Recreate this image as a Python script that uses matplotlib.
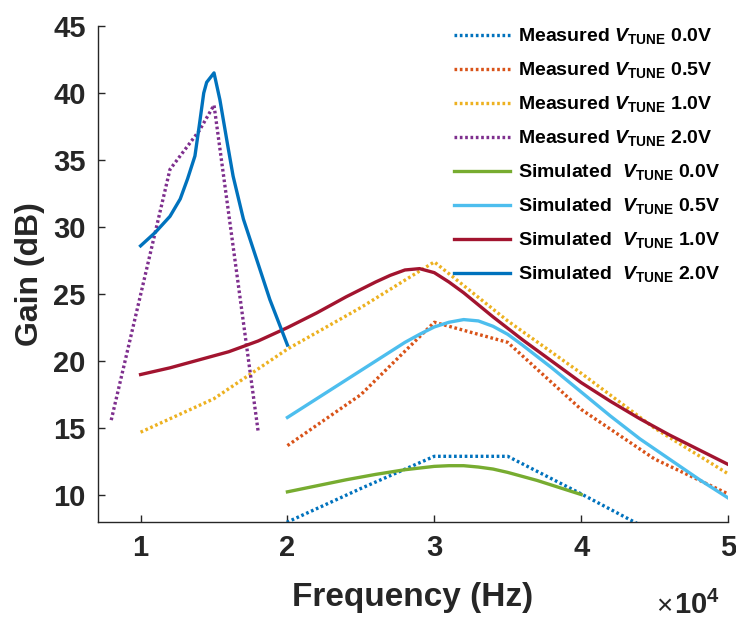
import matplotlib
matplotlib.use("Agg")
import matplotlib.pyplot as plt
from matplotlib.ticker import FuncFormatter

plt.rcParams["font.family"] = ["Liberation Sans", "DejaVu Sans"]
plt.rcParams["font.weight"] = "bold"
plt.rcParams["mathtext.fontset"] = "custom"
plt.rcParams["mathtext.rm"] = "Liberation Sans:bold"
plt.rcParams["mathtext.it"] = "Liberation Sans:bold:italic"
plt.rcParams["mathtext.bf"] = "Liberation Sans:bold"

# measured gain (dB)
meas_0v0_f = [15000, 20000, 25000, 30000, 35000, 40000, 45000]
meas_0v0_g = [5.5, 8.0, 10.5, 12.9, 12.9, 10.1, 7.2]
meas_0v5_f = [20000, 25000, 30000, 35000, 40000, 45000, 50000]
meas_0v5_g = [13.7, 17.5, 22.9, 21.4, 16.4, 12.7, 10.1]
meas_1v0_f = [10000, 15000, 20000, 25000, 30000, 35000, 40000, 45000, 50000]
meas_1v0_g = [14.7, 17.2, 20.9, 24.0, 27.4, 23.0, 19.1, 15.0, 11.6]
meas_2v0_f = [8000, 12000, 14000, 15000, 18000]
meas_2v0_g = [15.6, 34.3, 37.2, 39.1, 14.8]

# simulated gain (dB)
sim_0v0_f = [20000, 22000, 24000, 26000, 28000, 30000, 31000, 32000, 33000,
             34000, 35000, 36000, 37000, 38000, 39000, 40000]
sim_0v0_g = [10.25, 10.7, 11.15, 11.55, 11.9, 12.15, 12.2, 12.2, 12.1,
             11.95, 11.7, 11.4, 11.1, 10.75, 10.4, 10.05]
sim_0v5_f = [20000, 22000, 24000, 26000, 28000, 29000, 30000, 31000, 32000,
             33000, 34000, 35000, 36000, 38000, 40000, 42000, 44000, 46000,
             48000, 50000]
sim_0v5_g = [15.8, 17.2, 18.6, 20.0, 21.4, 22.0, 22.55, 22.9, 23.1,
             23.0, 22.6, 22.0, 21.2, 19.5, 17.7, 15.9, 14.2, 12.7,
             11.2, 9.8]
sim_1v0_f = [10000, 12000, 14000, 16000, 18000, 20000, 22000, 24000, 26000,
             27000, 28000, 29000, 30000, 31000, 32000, 33000, 34000, 36000,
             38000, 40000, 42000, 44000, 46000, 48000, 50000]
sim_1v0_g = [19.0, 19.5, 20.1, 20.7, 21.5, 22.5, 23.6, 24.8, 25.9,
             26.4, 26.8, 26.9, 26.6, 25.9, 25.1, 24.2, 23.3, 21.6,
             20.0, 18.4, 17.0, 15.7, 14.5, 13.4, 12.3]
sim_2v0_f = [10000, 11000, 12000, 12700, 13200, 13700, 14000, 14300, 14500,
             15000, 15400, 15900, 16300, 17000, 17900, 18800, 20000]
sim_2v0_g = [28.6, 29.6, 30.8, 32.1, 33.6, 35.3, 37.6, 40.0, 40.8,
             41.5, 39.5, 36.3, 33.8, 30.6, 27.6, 24.6, 21.2]

labels = ["Measured $V_{\\mathrm{TUNE}}$ 0.0V", "Measured $V_{\\mathrm{TUNE}}$ 0.5V",
          "Measured $V_{\\mathrm{TUNE}}$ 1.0V", "Measured $V_{\\mathrm{TUNE}}$ 2.0V",
          "Simulated  $V_{\\mathrm{TUNE}}$ 0.0V", "Simulated  $V_{\\mathrm{TUNE}}$ 0.5V",
          "Simulated  $V_{\\mathrm{TUNE}}$ 1.0V", "Simulated  $V_{\\mathrm{TUNE}}$ 2.0V"]

fig = plt.figure(figsize=(7.36, 6.19), dpi=100)
ax = fig.add_axes([98 / 736, 1 - 522 / 619, 630 / 736, 496 / 619])

dot = (0, (0.8, 0.8))
lw = 2.4
ax.plot(meas_0v0_f, meas_0v0_g, color="#0072BD", ls=dot, lw=lw, label=labels[0])
ax.plot(meas_0v5_f, meas_0v5_g, color="#D95319", ls=dot, lw=lw, label=labels[1])
ax.plot(meas_1v0_f, meas_1v0_g, color="#EDB120", ls=dot, lw=lw, label=labels[2])
ax.plot(meas_2v0_f, meas_2v0_g, color="#7E2F8E", ls=dot, lw=lw, label=labels[3])
ax.plot(sim_0v0_f, sim_0v0_g, color="#77AC30", lw=lw, label=labels[4])
ax.plot(sim_0v5_f, sim_0v5_g, color="#4DBEEE", lw=lw, label=labels[5])
ax.plot(sim_1v0_f, sim_1v0_g, color="#A2142F", lw=lw, label=labels[6])
ax.plot(sim_2v0_f, sim_2v0_g, color="#0072BD", lw=lw, label=labels[7])

ax.set_xlim(7100, 50000)
ax.set_ylim(8, 45)
ax.set_xticks([10000, 20000, 30000, 40000, 50000])
ax.set_yticks([10, 15, 20, 25, 30, 35, 40, 45])
ax.xaxis.set_major_formatter(FuncFormatter(lambda v, p: f"{v / 1e4:g}"))

for s in ["top", "right"]:
    ax.spines[s].set_visible(False)
for s in ["left", "bottom"]:
    ax.spines[s].set_color("#262626")
    ax.spines[s].set_linewidth(1.0)
ax.tick_params(direction="in", length=5, width=1, colors="#262626",
               labelsize=21, pad=9)
for t in ax.get_xticklabels() + ax.get_yticklabels():
    t.set_fontweight("bold")

ax.set_xlabel("Frequency (Hz)", fontsize=24, fontweight="bold", color="#262626", labelpad=14)
ax.set_ylabel("Gain (dB)", fontsize=23, fontweight="bold", color="#262626", labelpad=6)
fig.text(672 / 736, 1 - 614 / 619, "\u00d7", fontsize=20, fontweight="normal",
         color="#262626", ha="right", va="baseline")
fig.text(674 / 736, 1 - 614 / 619, r"$\mathbf{10^{4}}$", fontsize=21,
         color="#262626", ha="left", va="baseline")

ax.legend(loc="upper right", bbox_to_anchor=(1.0, 1.015), frameon=False,
          fontsize=14, handlelength=2.9, handletextpad=0.4, labelspacing=0.72,
          borderaxespad=0.0)

fig.savefig("out.png", dpi=100)
